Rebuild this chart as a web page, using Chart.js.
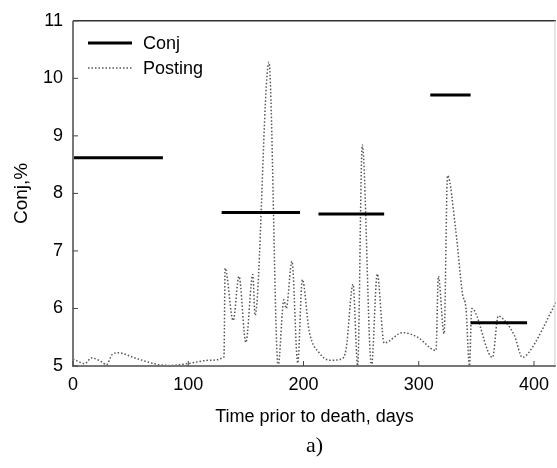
<!DOCTYPE html>
<html lang="en">
<head>
    <meta charset="UTF-8" />
    <title>Conj vs Posting</title>
    <script src="https://cdn.jsdelivr.net/npm/chart.js"></script>
    <style>
        html, body { margin: 0; padding: 0; background: #fff; }
        .chart-box { width: 557px; height: 468px; position: relative; }
    </style>
</head>
<body>
<div class="chart-box">
    <canvas id="conjChart"></canvas>
</div>

<script>
    // Conj segments: start day, end day, level
    const conjStart = [0, 129, 213, 310, 345];
    const conjEnd = [78, 197, 270, 345, 394];
    const conjLevel = [8.62, 7.67, 7.64, 9.71, 5.75];

    // Posting curve (dotted)
    const postDays = [0, 3.5, 10, 16, 25, 29, 34, 39, 55, 73, 84, 99, 119, 131,
        132, 139, 144, 150, 156, 158, 170, 178, 183, 185, 190, 195, 199, 205,
        214, 223, 233, 237, 243, 247, 251, 259, 264, 270, 286, 299, 315, 317,
        322, 325, 332, 338, 341, 344, 346, 364, 369, 373, 383, 390, 395, 419];
    const postValues = [5.12, 5.09, 5.04, 5.14, 5.07, 5.02, 5.2, 5.23, 5.13, 5.03, 5.01, 5.04, 5.1, 5.16,
        6.7, 5.79, 6.56, 5.41, 6.59, 5.88, 10.28, 5.0, 6.15, 6.0, 6.82, 5.05, 6.5, 5.6,
        5.22, 5.1, 5.12, 5.3, 6.42, 5.0, 8.84, 5.0, 6.6, 5.4, 5.58, 5.5, 5.27, 6.56,
        5.56, 8.31, 7.38, 6.25, 6.0, 5.0, 6.0, 5.15, 5.87, 5.82, 5.53, 5.15, 5.22, 6.1];

    const xTickValues = [0, 100, 200, 300, 400];
    const xTitle = "Time prior to death, days";
    const yTitle = "Conj,%";
    const panelLabel = "a)";

    // build segment data with gaps between pieces
    const conjData = [];
    conjStart.forEach((s, i) => {
        conjData.push({ x: s, y: conjLevel[i] });
        conjData.push({ x: conjEnd[i], y: conjLevel[i] });
        conjData.push({ x: conjEnd[i], y: null });
    });
    const postData = postDays.map((d, i) => ({ x: d, y: postValues[i] }));

    const font = "'Liberation Sans', Arial, sans-serif";

    // box, inward ticks, legend and panel label
    const framePlugin = {
        id: "frame",
        afterDraw(chart) {
            const ctx = chart.ctx;
            const { left, top, right, bottom } = chart.chartArea;
            const xs = chart.scales.x, ys = chart.scales.y;
            ctx.save();
            ctx.lineCap = "butt";
            ctx.strokeStyle = "#333";
            ctx.lineWidth = 1.5;
            ctx.beginPath();
            ctx.moveTo(left, top); ctx.lineTo(right, top);
            ctx.stroke();
            ctx.strokeStyle = "#d0d0d0";
            ctx.lineWidth = 1;
            ctx.beginPath();
            ctx.moveTo(right - 1, top); ctx.lineTo(right - 1, bottom);
            ctx.stroke();
            ctx.strokeStyle = "#777";
            ctx.lineWidth = 2;
            ctx.beginPath();
            ctx.moveTo(left, top); ctx.lineTo(left, bottom); ctx.lineTo(right, bottom);
            ctx.stroke();
            ctx.lineWidth = 1;
            ctx.strokeStyle = "#444";
            xs.ticks.forEach(t => {
                const p = xs.getPixelForValue(t.value);
                ctx.beginPath(); ctx.moveTo(p, bottom); ctx.lineTo(p, bottom - 5); ctx.stroke();
            });
            ys.ticks.forEach(t => {
                const p = ys.getPixelForValue(t.value);
                ctx.beginPath(); ctx.moveTo(left, p); ctx.lineTo(left + 5, p); ctx.stroke();
            });

            // legend
            const sets = chart.data.datasets;
            const rows = [43, 68];
            sets.forEach((ds, i) => {
                const y = rows[i];
                ctx.strokeStyle = ds.borderColor;
                ctx.lineWidth = ds.borderWidth;
                ctx.setLineDash(ds.borderDash || []);
                ctx.beginPath(); ctx.moveTo(88, y); ctx.lineTo(132, y); ctx.stroke();
                ctx.setLineDash([]);
                ctx.fillStyle = "#000";
                ctx.font = "18px " + font;
                ctx.textBaseline = "middle";
                ctx.textAlign = "left";
                ctx.fillText(ds.label, 143, y + 1);
            });

            ctx.font = "22px 'Liberation Serif', 'Times New Roman', serif";
            ctx.textAlign = "center";
            ctx.textBaseline = "middle";
            ctx.fillText(panelLabel, (left + right) / 2, 446);
            ctx.restore();
        }
    };

    new Chart(document.getElementById("conjChart"), {
        type: "line",
        data: {
            datasets: [
                {
                    label: "Conj",
                    data: conjData,
                    borderColor: "#000",
                    borderWidth: 3,
                    pointRadius: 0,
                    spanGaps: false,
                    order: 0,
                },
                {
                    label: "Posting",
                    data: postData,
                    borderColor: "#555",
                    borderWidth: 1.5,
                    borderDash: [1.5, 2],
                    pointRadius: 0,
                    cubicInterpolationMode: "monotone",
                    order: 1,
                },
            ],
        },
        options: {
            responsive: true,
            maintainAspectRatio: false,
            animation: false,
            layout: { padding: { left: 10, top: 16, right: 0, bottom: 40 } },
            plugins: {
                legend: { display: false },
                tooltip: { enabled: false },
            },
            scales: {
                x: {
                    type: "linear",
                    min: 0,
                    max: 419,
                    grid: { display: false, drawTicks: false },
                    border: { display: false },
                    afterBuildTicks(scale) {
                        scale.ticks = xTickValues.map(v => ({ value: v }));
                    },
                    ticks: {
                        padding: 8,
                        color: "#000",
                        font: { family: font, size: 18 },
                        maxRotation: 0,
                    },
                    title: {
                        display: true,
                        text: xTitle,
                        color: "#000",
                        font: { family: font, size: 18 },
                        padding: { top: 10, bottom: 0 },
                    },
                    afterFit(scale) { scale.height = 62; },
                },
                y: {
                    min: 5,
                    max: 11,
                    grid: { display: false, drawTicks: false },
                    border: { display: false },
                    ticks: {
                        stepSize: 1,
                        padding: 10,
                        color: "#000",
                        font: { family: font, size: 18 },
                    },
                    title: {
                        display: true,
                        text: yTitle,
                        color: "#000",
                        font: { family: font, size: 19 },
                        padding: { top: 0, bottom: 3 },
                    },
                    afterFit(scale) { scale.width = 63; },
                },
            },
        },
        plugins: [framePlugin],
    });
</script>
</body>
</html>
